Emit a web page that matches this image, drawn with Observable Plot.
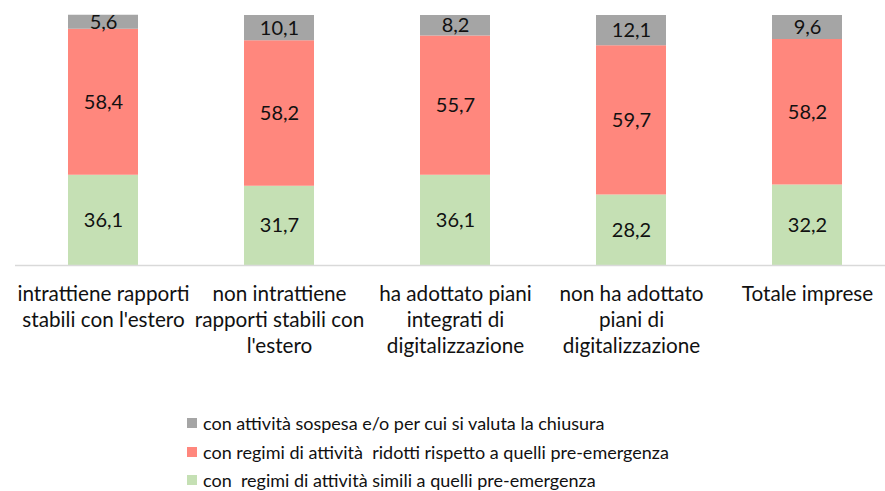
<!DOCTYPE html>
<html>
<head>
<meta charset="utf-8">
<script src="https://cdn.jsdelivr.net/npm/d3@7"></script>
<script src="https://cdn.jsdelivr.net/npm/@observablehq/plot@0.6"></script>
<style>
  html, body { margin: 0; padding: 0; background: #fff; }
  body { width: 885px; height: 491px; overflow: hidden; font-family: Lato, "Open Sans", sans-serif; }
  #legend { margin-left: 187px; margin-top: 24px; font-size: 18px; color: #111; }
  .row { display: flex; align-items: center; height: 28.5px; }
  .sw { width: 10px; height: 10px; margin-right: 6px; }
</style>
</head>
<body>
<div id="chart"></div>
<div id="legend"></div>
<script>
const categories = [
  "intrattiene rapporti\nstabili con l'estero",
  "non intrattiene\nrapporti stabili con\nl'estero",
  "ha adottato piani\nintegrati di\ndigitalizzazione",
  "non ha adottato\npiani di\ndigitalizzazione",
  "Totale imprese"
];
const seriesNames = [
  "con  regimi di attività simili a quelli pre-emergenza",
  "con regimi di attività  ridotti rispetto a quelli pre-emergenza",
  "con attività sospesa e/o per cui si valuta la chiusura"
];
const seriesColors = ["#c5e0b4", "#ff877d", "#a5a5a5"];
const simili = [36.1, 31.7, 36.1, 28.2, 32.2];
const ridotti = [58.4, 58.2, 55.7, 59.7, 58.2];
const sospesa = [5.6, 10.1, 8.2, 12.1, 9.6];

const valuesBySeries = [simili, ridotti, sospesa];
const data = [];
valuesBySeries.forEach((vals, si) => {
  vals.forEach((v, ci) => data.push({category: categories[ci], series: seriesNames[si], value: v}));
});
const fmt = v => d3.format(".1f")(v).replace(".", ",");

const W = 885, H = 385;
const chart = Plot.plot({
  width: W,
  height: H,
  marginTop: 15,
  marginBottom: H - 265,
  marginLeft: 15,
  marginRight: 0,
  style: {fontFamily: "Lato, 'Open Sans', sans-serif", fontSize: "20px", color: "#111"},
  x: {domain: categories, range: [15, 895], paddingInner: 0.6, paddingOuter: 0.3, label: null},
  y: {domain: [0, 100], axis: null},
  color: {domain: seriesNames, range: seriesColors},
  marks: [
    Plot.barY(data, Plot.stackY({x: "category", y: "value", fill: "series", order: seriesNames})),
    Plot.text(data, Plot.stackY({x: "category", y: "value", z: "series", order: seriesNames, text: d => fmt(d.value), fill: "#111", fontSize: 20})),
    Plot.ruleY([0], {stroke: "#d9d9d9", strokeWidth: 1.5}),
    Plot.axisX({tickSize: 0, tickPadding: 17, lineHeight: 1.26, fontSize: 20.7, fill: "#111", label: null})
  ]
});
document.getElementById("chart").appendChild(chart);

const legend = document.getElementById("legend");
[2, 1, 0].forEach(i => {
  const row = document.createElement("div");
  row.className = "row";
  const sw = document.createElement("div");
  sw.className = "sw";
  sw.style.background = seriesColors[i];
  const t = document.createElement("span");
  t.textContent = seriesNames[i];
  t.style.whiteSpace = "pre";
  row.appendChild(sw);
  row.appendChild(t);
  legend.appendChild(row);
});
</script>
</body>
</html>
